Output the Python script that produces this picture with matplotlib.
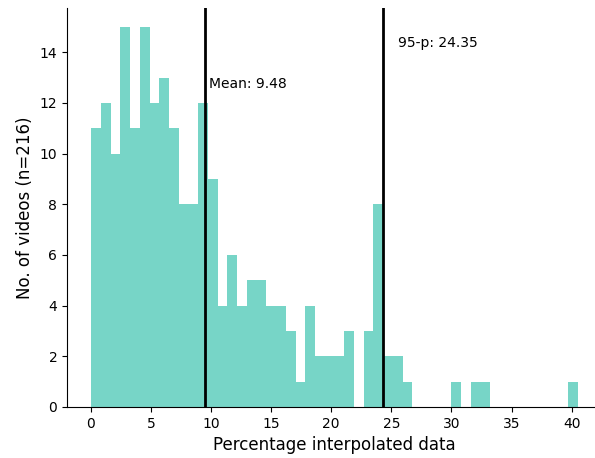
import numpy as np
import matplotlib
matplotlib.use("Agg")
import matplotlib.pyplot as plt

# Histogram of interpolated-data percentage per video (50 bins)
bin_lo = 0.05
bin_hi = 40.5
n_bins = 50
counts = [11, 12, 10, 15, 11, 15, 12, 13, 11, 8,
          8, 12, 9, 4, 6, 4, 5, 5, 4, 4,
          3, 1, 4, 2, 2, 2, 3, 0, 3, 8,
          2, 2, 1, 0, 0, 0, 0, 1, 0, 1,
          1, 0, 0, 0, 0, 0, 0, 0, 0, 1]
mean_val = 9.48
p95_val = 24.35

edges = np.linspace(bin_lo, bin_hi, n_bins + 1)
centers = (edges[:-1] + edges[1:]) / 2

fig = plt.figure(figsize=(5.95, 4.58), dpi=100)
ax = fig.add_axes([67 / 595, 51 / 458, 535 / 595, 399 / 458])

ax.hist(centers, bins=edges, weights=counts, color="#77d5c7")
ax.axvline(mean_val, color="black", lw=2)
ax.axvline(p95_val, color="black", lw=2)
ax.text(mean_val + 0.35, 12.6, f"Mean: {mean_val:.2f}", fontsize=10)
ax.text(p95_val + 1.2, 14.2, f"95-p: {p95_val:.2f}", fontsize=10)

ax.spines["top"].set_visible(False)
ax.spines["right"].set_visible(False)
ax.set_xticks([0, 5, 10, 15, 20, 25, 30, 35, 40])
ax.set_yticks([0, 2, 4, 6, 8, 10, 12, 14])
ax.set_xlabel("Percentage interpolated data", fontsize=12)
ax.set_ylabel("No. of videos (n=216)", fontsize=12)

fig.savefig("out.png", dpi=100)
